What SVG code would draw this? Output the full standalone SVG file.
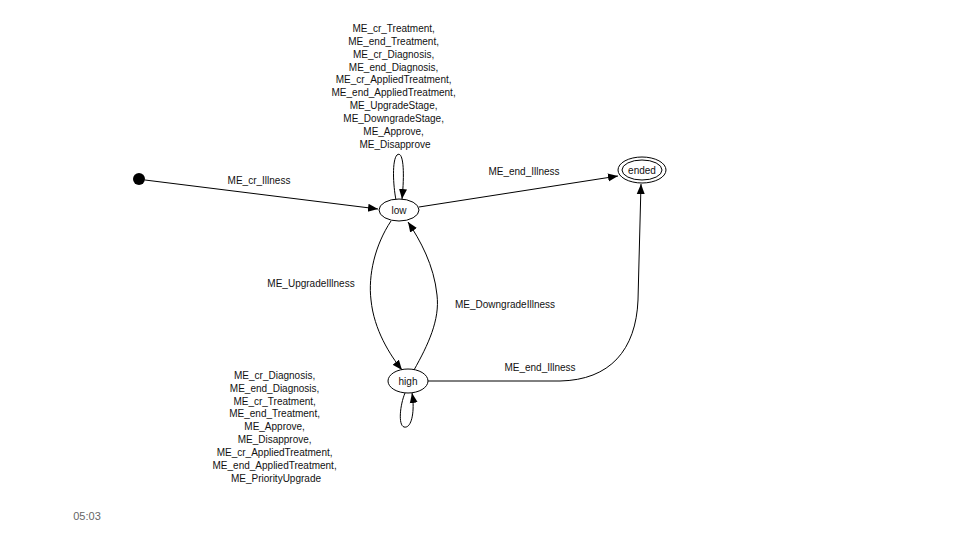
<svg xmlns="http://www.w3.org/2000/svg" width="960" height="540" viewBox="0 0 960 540">
<defs>
<style>
.n{fill:#fff;stroke:#000;stroke-width:1}
.e{fill:none;stroke:#000;stroke-width:1}
.t{font-family:"Liberation Sans",Arial,sans-serif;font-size:10px;fill:#111;text-anchor:middle}
</style>
<marker id="a" viewBox="0 0 10 10" refX="10" refY="5" markerWidth="10" markerHeight="10" markerUnits="userSpaceOnUse" orient="auto">
<path d="M0,1 L10,5 L0,9 Z" fill="#000"/>
</marker>
</defs>
<rect width="960" height="540" fill="#fff"/>
<g id="connectors">
<path class="e" d="M145,180 L378,209" marker-end="url(#a)"/>
<path class="e" d="M419,207 L618,176" marker-end="url(#a)"/>
<path class="e" d="M396,200 C393,185 392,160 397,155 C403,150 405,170 402,199" marker-end="url(#a)"/>
<path class="e" d="M391,221 C375,245 368,275 371,300 C374,330 390,355 402,370" marker-end="url(#a)"/>
<path class="e" d="M414,370 C428,345 440,320 437,295 C434,265 420,240 408,222" marker-end="url(#a)"/>
<path class="e" d="M405,393 C400,405 398,425 404,427 C412,429 415,410 412,393" marker-end="url(#a)"/>
<path class="e" d="M428,381 L560,381 C610,380 636,350 638,300 L641,184" marker-end="url(#a)"/>
</g>
<g id="init"><circle cx="139" cy="179" r="6" fill="#000"/></g>
<g id="low"><ellipse class="n" cx="399" cy="210" rx="20" ry="11"/><text class="t" x="399" y="214">low</text></g>
<g id="ended"><ellipse class="n" cx="642" cy="170" rx="24" ry="13"/><ellipse class="n" cx="642" cy="170" rx="20" ry="10"/><text class="t" x="642" y="174">ended</text></g>
<g id="high"><ellipse class="n" cx="408" cy="381" rx="20" ry="12"/><text class="t" x="408" y="385">high</text></g>
<g id="labels">
<text class="t" x="259" y="184">ME_cr_Illness</text>
<text class="t" x="524" y="175">ME_end_Illness</text>
<text class="t" x="311" y="287">ME_UpgradeIllness</text>
<text class="t" x="505" y="308">ME_DowngradeIllness</text>
<text class="t" x="540" y="371">ME_end_Illness</text>
<text class="t" x="395">
<tspan x="395" y="32">ME_cr_Treatment,</tspan>
<tspan x="395" y="45">ME_end_Treatment,</tspan>
<tspan x="395" y="58">ME_cr_Diagnosis,</tspan>
<tspan x="395" y="71">ME_end_Diagnosis,</tspan>
<tspan x="395" y="83">ME_cr_AppliedTreatment,</tspan>
<tspan x="395" y="96">ME_end_AppliedTreatment,</tspan>
<tspan x="395" y="109">ME_UpgradeStage,</tspan>
<tspan x="395" y="122">ME_DowngradeStage,</tspan>
<tspan x="395" y="135">ME_Approve,</tspan>
<tspan x="395" y="148">ME_Disapprove</tspan>
</text>
<text class="t" x="276">
<tspan x="276" y="379">ME_cr_Diagnosis,</tspan>
<tspan x="276" y="392">ME_end_Diagnosis,</tspan>
<tspan x="276" y="405">ME_cr_Treatment,</tspan>
<tspan x="276" y="417">ME_end_Treatment,</tspan>
<tspan x="276" y="430">ME_Approve,</tspan>
<tspan x="276" y="443">ME_Disapprove,</tspan>
<tspan x="276" y="456">ME_cr_AppliedTreatment,</tspan>
<tspan x="276" y="469">ME_end_AppliedTreatment,</tspan>
<tspan x="276" y="482">ME_PriorityUpgrade</tspan>
</text>
</g>
<text x="87" y="520" style="font-family:'Liberation Sans',Arial,sans-serif;font-size:11px;fill:#666;text-anchor:middle">05:03</text>
</svg>
